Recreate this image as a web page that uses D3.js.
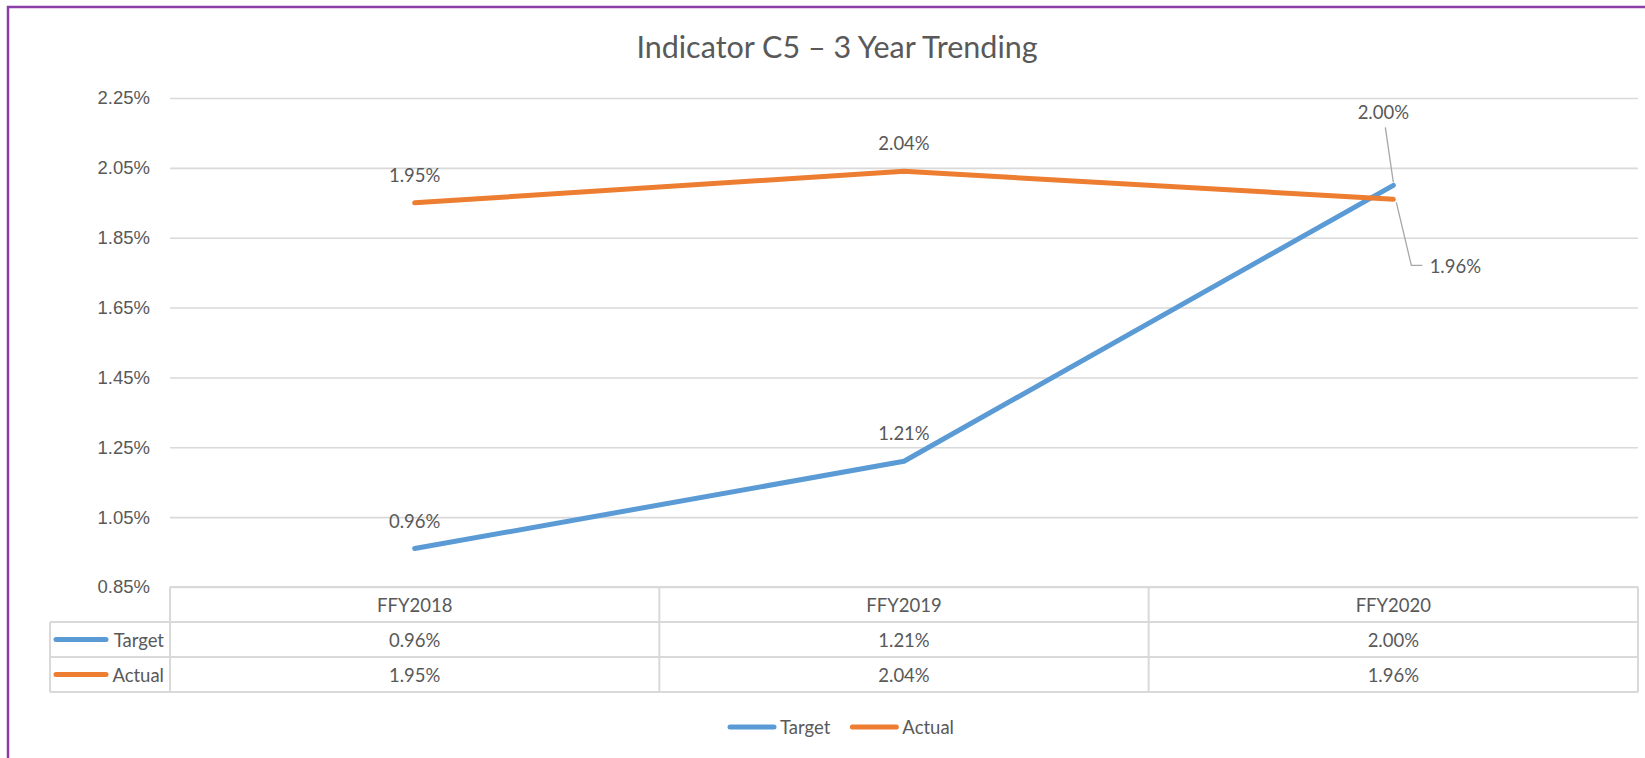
<!DOCTYPE html>
<html>
<head>
<meta charset="utf-8">
<script src="https://cdn.jsdelivr.net/npm/d3@7"></script>
<style>
  body { margin: 0; background: #fff; }
  svg { display: block; font-family: Lato, 'Open Sans', sans-serif; }
  text { fill: #595959; }
</style>
</head>
<body>
<svg id="chart"></svg>
<script>
/* global d3 */

// chart data
const categories = ['FFY2018', 'FFY2019', 'FFY2020'];
const targetValues = [0.96, 1.21, 2.00];
const actualValues = [1.95, 2.04, 1.96];
const yTicks = [0.85, 1.05, 1.25, 1.45, 1.65, 1.85, 2.05, 2.25];
const seriesNames = ['Target', 'Actual'];
const seriesColors = ['#5b9bd5', '#ed7d31'];
const title = 'Indicator C5 \u2013 3 Year Trending';

// settings object
const config = {
  svg: { width: 1645, height: 758 },
  frame: { x: 8, y: 7, color: '#8b3fa6' },
  plot: { left: 170, right: 1638, top: 98, bottom: 587 },
  yDomain: [0.85, 2.25],
  tickLabelX: 150,
  title: { x: 837, y: 58, size: 30.5 },
  font: 18.5,
  line: { width: 5 },
  grid: '#d9d9d9',
  table: { left: 50, rowHeight: 35, keyLine: [56, 106], keyTextRight: 164 },
  legend: { cx: 841, y: 727, line: 48, gap: 4, spacing: 20 },
  label: { dy: -28 },
  // special label spots for the last points, offsets from the point
  lastLabel: {
    Target: { dx: -10, dy: -73, leader: [[0, -3], [-8, -58]] },
    Actual: { dx: 62, dy: 67, leader: [[3, 3], [18, 66], [29, 66]] },
  },
};

const series = seriesNames.map((name, i) => ({
  name: name,
  color: seriesColors[i],
  values: [targetValues, actualValues][i],
}));

const formatPct = d => d.toFixed(2) + '%';

const svg = d3.select('#chart')
  .attr('width', config.svg.width)
  .attr('height', config.svg.height);

// scales
const scaleX = d3.scaleBand()
  .domain(categories)
  .range([config.plot.left, config.plot.right]);

const scaleY = d3.scaleLinear()
  .domain(config.yDomain)
  .range([config.plot.bottom, config.plot.top]);

const xCenter = c => scaleX(c) + scaleX.bandwidth() / 2;

// purple frame (only left and top edges are inside the picture)
svg.append('rect')
  .attr('x', config.frame.x)
  .attr('y', config.frame.y)
  .attr('width', config.svg.width + 40)
  .attr('height', config.svg.height + 40)
  .attr('fill', 'none')
  .attr('stroke', config.frame.color)
  .attr('stroke-width', 2.5);

// title
svg.append('text')
  .attr('x', config.title.x)
  .attr('y', config.title.y)
  .attr('text-anchor', 'middle')
  .attr('font-size', config.title.size)
  .text(title);

// y axis: gridlines and labels
const yAxis = d3.axisLeft(scaleY)
  .tickValues(yTicks)
  .tickSize(-(config.plot.right - config.plot.left))
  .tickPadding(config.plot.left - config.tickLabelX)
  .tickFormat(formatPct);

const yAxisG = svg.append('g')
  .attr('transform', `translate(${config.plot.left}, 0)`)
  .call(yAxis);

yAxisG.select('.domain').remove();
yAxisG.selectAll('.tick line')
  .attr('stroke', config.grid)
  .attr('stroke-width', 1.6);
yAxisG.selectAll('.tick text')
  .attr('font-size', config.font)
  .attr('font-family', null)
  .attr('fill', '#595959');

// data table under the plot
const rowTop = i => config.plot.bottom + i * config.table.rowHeight;
const table = svg.append('g').attr('class', 'table');
const tableLine = (x1, y1, x2, y2) => table.append('line')
  .attr('x1', x1).attr('y1', y1).attr('x2', x2).attr('y2', y2)
  .attr('stroke', config.grid)
  .attr('stroke-width', 2);

tableLine(config.plot.left, rowTop(0), config.plot.right, rowTop(0));
[1, 2, 3].forEach(i => tableLine(config.table.left, rowTop(i), config.plot.right, rowTop(i)));
tableLine(config.table.left, rowTop(1), config.table.left, rowTop(3));
tableLine(config.plot.left, rowTop(0), config.plot.left, rowTop(3));
categories.forEach(c => {
  const x = scaleX(c) + scaleX.bandwidth();
  tableLine(x, rowTop(0), x, rowTop(3));
});

// header row with categories
table.selectAll('.head')
  .data(categories)
  .enter().append('text')
  .attr('class', 'head')
  .attr('x', xCenter)
  .attr('y', rowTop(0) + config.table.rowHeight / 2)
  .attr('dominant-baseline', 'central')
  .attr('text-anchor', 'middle')
  .attr('font-size', config.font)
  .text(d => d);

// one row per series
series.forEach((s, i) => {
  const cy = rowTop(i + 1) + config.table.rowHeight / 2;

  table.append('line')
    .attr('x1', config.table.keyLine[0])
    .attr('x2', config.table.keyLine[1])
    .attr('y1', cy).attr('y2', cy)
    .attr('stroke', s.color)
    .attr('stroke-width', config.line.width)
    .attr('stroke-linecap', 'round');

  table.append('text')
    .attr('x', config.table.keyTextRight)
    .attr('y', cy)
    .attr('dominant-baseline', 'central')
    .attr('text-anchor', 'end')
    .attr('font-size', config.font)
    .text(s.name);

  table.selectAll(`.cell-${i}`)
    .data(s.values)
    .enter().append('text')
    .attr('class', `cell-${i}`)
    .attr('x', (d, j) => xCenter(categories[j]))
    .attr('y', cy)
    .attr('dominant-baseline', 'central')
    .attr('text-anchor', 'middle')
    .attr('font-size', config.font)
    .text(formatPct);
});

// lines
const line = d3.line()
  .x((d, j) => xCenter(categories[j]))
  .y(d => scaleY(d));

series.forEach(s => {
  svg.append('path')
    .datum(s.values)
    .attr('fill', 'none')
    .attr('stroke', s.color)
    .attr('stroke-width', config.line.width)
    .attr('stroke-linecap', 'round')
    .attr('stroke-linejoin', 'round')
    .attr('d', line);
});

// data labels
series.forEach(s => {
  s.values.forEach((v, j) => {
    const px = xCenter(categories[j]);
    const py = scaleY(v);
    const last = j === categories.length - 1 ? config.lastLabel[s.name] : null;
    const dx = last ? last.dx : 0;
    const dy = last ? last.dy : config.label.dy;

    if (last) {
      svg.append('path')
        .attr('fill', 'none')
        .attr('stroke', '#a6a6a6')
        .attr('stroke-width', 1.3)
        .attr('d', d3.line()(last.leader.map(p => [px + p[0], py + p[1]])));
    }

    svg.append('text')
      .attr('x', px + dx)
      .attr('y', py + dy)
      .attr('dominant-baseline', 'central')
      .attr('text-anchor', 'middle')
      .attr('font-size', config.font)
      .text(formatPct(v));
  });
});

// legend at the bottom, centred
const legend = svg.append('g');
let cursor = 0;
series.forEach(s => {
  const item = legend.append('g').attr('transform', `translate(${cursor}, 0)`);
  item.append('line')
    .attr('x1', 2).attr('x2', config.legend.line - 2)
    .attr('y1', 0).attr('y2', 0)
    .attr('stroke', s.color)
    .attr('stroke-width', config.line.width)
    .attr('stroke-linecap', 'round');
  const t = item.append('text')
    .attr('x', config.legend.line + config.legend.gap)
    .attr('y', 0)
    .attr('dominant-baseline', 'central')
    .attr('font-size', config.font)
    .text(s.name);
  cursor += config.legend.line + config.legend.gap + t.node().getComputedTextLength() + config.legend.spacing;
});
const legendWidth = cursor - config.legend.spacing;
legend.attr('transform', `translate(${config.legend.cx - legendWidth / 2}, ${config.legend.y})`);
</script>
</body>
</html>
